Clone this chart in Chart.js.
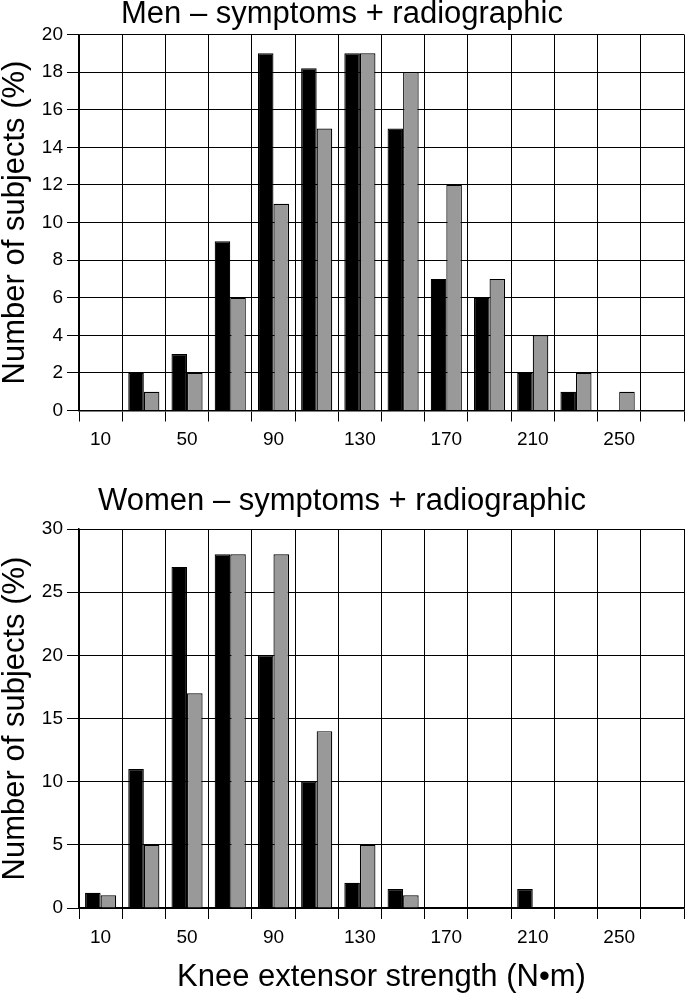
<!DOCTYPE html>
<html>
<head>
<meta charset="utf-8">
<script src="https://cdn.jsdelivr.net/npm/chart.js@4.4.1/dist/chart.umd.min.js"></script>
<style>
  body { margin: 0; background: #fff; overflow: hidden; }
  #top { position: absolute; left: 0; top: -1px; }
  #bottom { position: absolute; left: 0; top: 486px; }
</style>
</head>
<body>
<canvas id="top" width="685" height="471"></canvas>
<canvas id="bottom" width="685" height="510"></canvas>
<script>
const bins = ['10', '30', '50', '70', '90', '110', '130', '150', '170', '190', '210', '230', '250', '270'];
const menBlack = [0, 2, 3, 9, 19, 18.2, 19, 15, 7, 6, 2, 1, 0, 0];
const menGray = [0, 1, 2, 6, 11, 15, 19, 18, 12, 7, 4, 2, 1, 0];
const womenBlack = [1.2, 11, 27, 28, 20, 10, 2, 1.5, 0, 0, 1.5, 0, 0, 0];
const womenGray = [1, 5, 17, 28, 28, 14, 5, 1, 0, 0, 0, 0, 0, 0];

const fontName = '"Liberation Sans", Arial, Helvetica, sans-serif';

function makeChart(id, title, black, gray, yMax, yStep, opts) {
  const ctx = document.getElementById(id);
  return new Chart(ctx, {
    type: 'bar',
    data: {
      labels: bins,
      datasets: [{
        data: black,
        backgroundColor: '#000000',
        borderColor: '#000000',
        borderWidth: 1.2,
        categoryPercentage: 0.72,
        barPercentage: 1.0
      }, {
        data: gray,
        backgroundColor: '#999999',
        borderColor: '#000000',
        borderWidth: 1.2,
        categoryPercentage: 0.72,
        barPercentage: 1.0
      }]
    },
    options: {
      responsive: false,
      animation: false,
      layout: { padding: { top: 0, right: 1, left: 0, bottom: 0 } },
      plugins: {
        legend: { display: false },
        tooltip: { enabled: false },
        title: {
          display: true,
          text: title,
          color: '#000',
          font: { family: fontName, size: 31, weight: 'normal', lineHeight: 1 },
          padding: { top: 0, bottom: opts.titleGap }
        }
      },
      scales: {
        x: {
          afterFit: function(scale) { scale.height = opts.xHeight; },
          grid: { color: '#000', lineWidth: 1, tickLength: 11, offset: true },
          border: { color: '#000', width: 1.5 },
          ticks: {
            color: '#000',
            font: { family: fontName, size: 19 },
            maxRotation: 0,
            autoSkip: false,
            padding: 7,
            callback: function(val, i) { return i % 2 === 0 ? bins[i] : ''; }
          },
          title: {
            display: opts.xTitle !== '',
            text: opts.xTitle,
            color: '#000',
            font: { family: fontName, size: 31, lineHeight: 1 },
            padding: { top: 0, bottom: 3.5 }
          }
        },
        y: {
          min: 0,
          max: yMax,
          afterFit: function(scale) { scale.width = 79; },
          grid: { color: '#000', lineWidth: 1, tickLength: 12 },
          border: { color: '#000', width: 1.5 },
          ticks: {
            stepSize: yStep,
            color: '#000',
            font: { family: fontName, size: 19 },
            padding: 4
          },
          title: {
            display: true,
            text: 'Number of subjects (%)',
            color: '#000',
            font: { family: fontName, size: 31, lineHeight: 1 },
            padding: { top: 0, bottom: 0 }
          }
        }
      }
    }
  });
}

makeChart('top', 'Men \u2013 symptoms + radiographic', menBlack, menGray, 20, 2,
  { titleGap: 4.5, xHeight: 59.5, xTitle: '' });
makeChart('bottom', 'Women \u2013 symptoms + radiographic', womenBlack, womenGray, 30, 5,
  { titleGap: 12, xHeight: 88, xTitle: 'Knee extensor strength (N\u2022m)' });
</script>
</body>
</html>
